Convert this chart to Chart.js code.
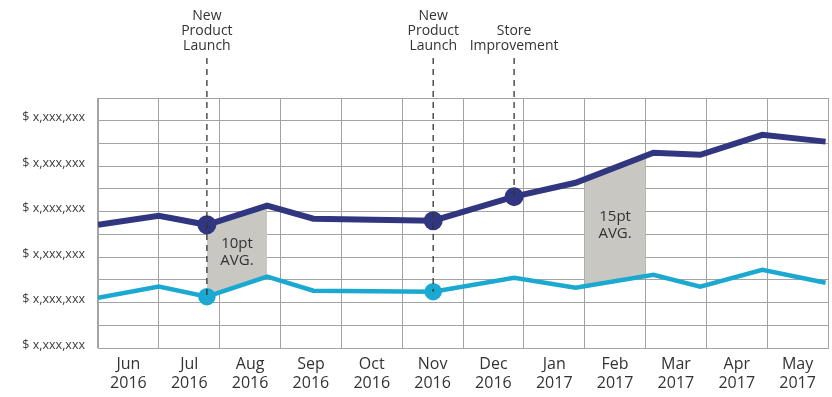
<!DOCTYPE html>
<html>
<head>
<meta charset="utf-8">
<script src="https://cdn.jsdelivr.net/npm/chart.js@4/dist/chart.umd.min.js"></script>
<style>
  html, body { margin: 0; padding: 0; background: #fff; }
  #wrap { width: 832px; height: 397px; }
</style>
</head>
<body>
<div id="wrap"><canvas id="salesChart"></canvas></div>
<script>
// month labels (two lines each)
const months = [
  ['Jun', '2016'], ['Jul', '2016'], ['Aug', '2016'], ['Sep', '2016'],
  ['Oct', '2016'], ['Nov', '2016'], ['Dec', '2016'], ['Jan', '2017'],
  ['Feb', '2017'], ['Mar', '2017'], ['Apr', '2017'], ['May', '2017']
];

// position of each reading along the timeline (months from start)
const monthPos = [0, 1.0, 1.79, 2.78, 3.54, 5.51, 6.84, 7.85, 9.13, 9.9, 10.92, 11.96];

// revenue series (axis units)
const totalSales = [5.42, 5.82, 5.42, 6.26, 5.69, 5.6, 6.66, 7.27, 8.59, 8.5, 9.38, 9.08];
const baseSales  = [2.21, 2.7, 2.26, 3.14, 2.52, 2.48, 3.09, 2.65, 3.22, 2.7, 3.44, 2.87];

// y tick labels, one every other gridline
const yTickValues = [0, 2, 4, 6, 8, 10];
const yTickLabels = ['$ x,xxx,xxx', '$ x,xxx,xxx', '$ x,xxx,xxx', '$ x,xxx,xxx', '$ x,xxx,xxx', '$ x,xxx,xxx'];

// events: index into the series, and which series the marker sits on
const events = [
  { text: ['New', 'Product', 'Launch'], index: 2, series: 1 },
  { text: ['New', 'Product', 'Launch'], index: 5, series: 1 },
  { text: ['Store', 'Improvement'], index: 6, series: 0 }
];
const totalMarks = [2, 5, 6];
const baseMarks = [2, 5];

// shaded gaps between the two series
const gaps = [
  { from: monthPos[2], to: monthPos[3], text: ['10pt', 'AVG.'], y: 4.24 },
  { from: 8, to: 9, text: ['15pt', 'AVG.'], y: 5.42 }
];

const NAVY = '#30367f';
const CYAN = '#1ba9d2';
const GRID = '#a3a3a3';
const TEXT = '#333333';

Chart.defaults.font.family = "'Open Sans', sans-serif";
Chart.defaults.color = TEXT;

function points(values) {
  return values.map((v, i) => ({ x: monthPos[i], y: v }));
}

const gapShading = {
  id: 'gapShading',
  beforeDatasetsDraw(chart) {
    const { ctx, chartArea, scales } = chart;
    const top = chart.getDatasetMeta(0).data;
    const bottom = chart.getDatasetMeta(1).data;
    gaps.forEach(g => {
      const x0 = scales.xData.getPixelForValue(g.from);
      const x1 = scales.xData.getPixelForValue(g.to);
      ctx.save();
      ctx.beginPath();
      ctx.rect(x0, chartArea.top, x1 - x0, chartArea.bottom - chartArea.top);
      ctx.clip();
      ctx.beginPath();
      top.forEach((p, i) => i ? ctx.lineTo(p.x, p.y) : ctx.moveTo(p.x, p.y));
      for (let i = bottom.length - 1; i >= 0; i--) ctx.lineTo(bottom[i].x, bottom[i].y);
      ctx.closePath();
      ctx.fillStyle = '#c8c7c2';
      ctx.fill();
      ctx.restore();

      ctx.save();
      ctx.fillStyle = TEXT;
      ctx.font = "15px 'Open Sans', sans-serif";
      ctx.textAlign = 'center';
      ctx.textBaseline = 'middle';
      const cy = scales.y.getPixelForValue(g.y);
      ctx.fillText(g.text[0], (x0 + x1) / 2, cy - 8);
      ctx.fillText(g.text[1], (x0 + x1) / 2, cy + 9);
      ctx.restore();
    });
  },
  afterDatasetsDraw(chart) {
    const { ctx } = chart;
    events.forEach(ev => {
      const p = chart.getDatasetMeta(ev.series).data[ev.index];
      ctx.save();
      ctx.strokeStyle = '#333';
      ctx.lineWidth = 1.3;
      ctx.setLineDash([6, 5]);
      ctx.beginPath();
      ctx.moveTo(p.x, 58);
      ctx.lineTo(p.x, p.y);
      ctx.stroke();
      ctx.restore();

      ctx.save();
      ctx.fillStyle = TEXT;
      ctx.font = "14px 'Open Sans', sans-serif";
      ctx.textAlign = 'center';
      ctx.textBaseline = 'middle';
      const startY = 46 - (ev.text.length - 1) * 15;
      ev.text.forEach((line, k) => ctx.fillText(line, p.x, startY + k * 15));
      ctx.restore();
    });
  }
};

new Chart(document.getElementById('salesChart'), {
  type: 'line',
  data: {
    labels: months,
    datasets: [
      {
        label: 'Total',
        xAxisID: 'xData',
        data: points(totalSales),
        borderColor: NAVY,
        backgroundColor: NAVY,
        borderWidth: 6,
        tension: 0,
        pointRadius: ctx => totalMarks.includes(ctx.dataIndex) ? 6.5 : 0,
        pointHoverRadius: 0
      },
      {
        label: 'Base',
        xAxisID: 'xData',
        data: points(baseSales),
        borderColor: CYAN,
        backgroundColor: CYAN,
        borderWidth: 4.5,
        tension: 0,
        pointRadius: ctx => baseMarks.includes(ctx.dataIndex) ? 6.5 : 0,
        pointHoverRadius: 0
      }
    ]
  },
  options: {
    responsive: true,
    maintainAspectRatio: false,
    animation: false,
    events: [],
    layout: { padding: { top: 98, right: 4, left: 0, bottom: 0 } },
    plugins: { legend: { display: false }, tooltip: { enabled: false } },
    scales: {
      x: {
        type: 'category',
        offset: true,
        grid: { offset: true, color: GRID, lineWidth: 1, drawTicks: false },
        border: { color: GRID },
        ticks: { padding: 7, color: TEXT, font: { size: 16 }, maxRotation: 0, autoSkip: false },
        afterFit: scale => { scale.height = 49; }
      },
      xData: {
        type: 'linear',
        display: false,
        min: 0,
        max: 12
      },
      y: {
        min: 0,
        max: 11,
        grid: { color: GRID, lineWidth: 1, drawTicks: false },
        border: { color: GRID },
        ticks: {
          stepSize: 1,
          padding: 13,
          labelOffset: -3,
          color: '#404040',
          font: { size: 12.5 },
          autoSkip: false,
          callback: v => {
            const k = yTickValues.indexOf(v);
            return k >= 0 ? yTickLabels[k] : '';
          }
        },
        afterFit: scale => { scale.width = 98; }
      }
    }
  },
  plugins: [gapShading]
});
</script>
</body>
</html>
